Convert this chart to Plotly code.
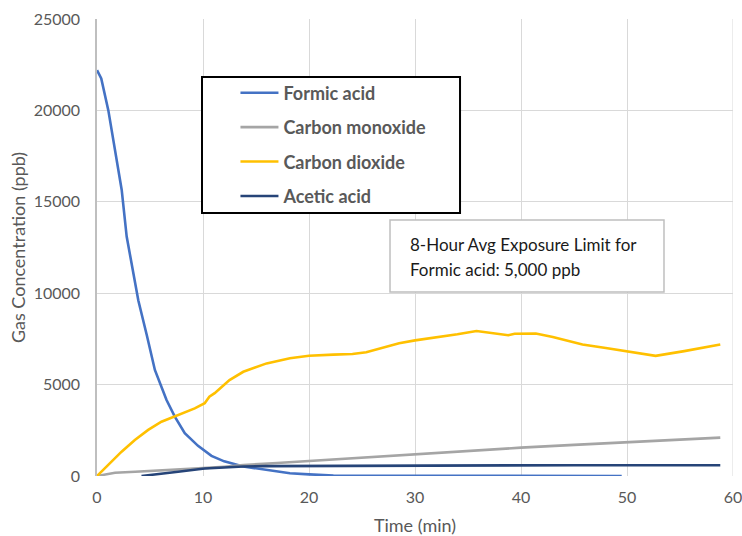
import plotly.graph_objects as go

# ---- data ----
t_formic = [0, 0.4, 1.07, 1.7, 2.33, 2.8, 3.37, 3.9, 4.7, 5.46, 6.56, 7.34, 8.28, 9.53, 10.8, 12.0,
            13.8, 16, 18.2, 20, 22.3, 25, 30, 35, 40, 45, 49.5]
v_formic = [22200, 21750, 20000, 17830, 15650, 13100, 11300, 9600, 7700, 5800, 4160, 3250, 2340, 1650,
            1100, 800, 520, 330, 150, 90, 20, 10, 0, 0, 0, 0, 0]

t_co = [0, 1.7, 3.6, 6, 8, 10, 12, 13.8, 17, 20, 23, 26.7, 28.5, 30, 35, 40, 45, 50, 55, 58.8]
v_co = [0, 180, 235, 300, 360, 430, 510, 600, 710, 820, 930, 1070, 1150, 1220, 1390, 1550, 1700,
        1840, 1980, 2100]

t_co2 = [0, 1.06, 2.32, 3.57, 4.83, 6.08, 7.65, 9.22, 10.16, 10.6, 11.1, 11.6, 12.5, 13.8, 16, 18.2,
         20, 22.3, 24.1, 25.4, 27, 28.5, 30, 32, 34, 35.8, 37, 38.8, 39.4, 41.4, 43, 45.8, 48, 50.4,
         52.7, 55.4, 57, 58.8]
v_co2 = [0, 600, 1330, 1970, 2520, 2970, 3340, 3700, 3980, 4340, 4530, 4800, 5250, 5700, 6160, 6440,
         6580, 6640, 6670, 6770, 7040, 7260, 7420, 7580, 7750, 7930, 7850, 7700, 7780, 7790, 7600,
         7190, 7000, 6770, 6570, 6830, 6980, 7190]

t_acetic = [4.2, 5.5, 7.65, 10.16, 12, 13.8, 16, 20, 23.6, 28.5, 35, 40, 45, 50, 55, 58.8]
v_acetic = [0, 100, 235, 410, 475, 520, 540, 550, 560, 590, 590, 590, 590, 590, 590, 590]

series_names = ["Formic acid", "Carbon monoxide", "Carbon dioxide", "Acetic acid"]
series_colors = ["#4472C4", "#A5A5A5", "#FFC000", "#264478"]

x_range = [0, 60]
y_range = [0, 25000]
x_title = "Time (min)"
y_title = "Gas Concentration (ppb)"
note_lines = ["8-Hour Avg Exposure Limit for", "Formic acid: 5,000 ppb"]

FONT = "Lato"
GREY_TXT = "#595959"

fig = go.Figure()
for name, color, xs, ys in zip(series_names, series_colors,
                               [t_formic, t_co, t_co2, t_acetic],
                               [v_formic, v_co, v_co2, v_acetic]):
    fig.add_trace(go.Scatter(x=xs, y=ys, mode="lines", name=name, legendgroup=name,
                             line=dict(color=color, width=2.6)))

# right-hand gridline at the end of the x range
fig.add_shape(type="line", xref="x", yref="paper", x0=x_range[1], x1=x_range[1], y0=0, y1=1,
              line=dict(color="#D9D9D9", width=1), layer="below")
# legend box (white with black border)
fig.add_shape(type="rect", xref="paper", yref="paper", x0=0.1651, x1=0.5708, y0=0.5755, y1=0.8731,
              line=dict(color="black", width=2), fillcolor="white", layer="above")
# note box
fig.add_shape(type="rect", xref="paper", yref="paper", x0=0.4607, x1=0.8915, y0=0.4026, y1=0.5602,
              line=dict(color="#BFBFBF", width=1.5), fillcolor="white", layer="above")
for txt, yy in zip(note_lines, [0.5055, 0.4508]):
    fig.add_annotation(xref="paper", yref="paper", x=0.4890, y=yy, text=txt, showarrow=False,
                       xanchor="left", yanchor="middle", align="left",
                       font=dict(family=FONT, size=17, color="#1a1a1a"))

fig.update_layout(
    width=742, height=536,
    margin=dict(l=97, r=9, t=19, b=60),
    paper_bgcolor="white", plot_bgcolor="white",
    font=dict(family=FONT, color=GREY_TXT, size=16),
    showlegend=True,
    legend=dict(x=0.2177, y=0.8785, xanchor="left", yanchor="top", bgcolor="rgba(0,0,0,0)",
                borderwidth=0, traceorder="grouped", tracegroupgap=8, itemwidth=38,
                font=dict(family=FONT, size=18, color=GREY_TXT, weight="bold")),
    xaxis=dict(range=x_range, dtick=10, tick0=0, showgrid=True, gridcolor="#D9D9D9", gridwidth=1,
               zeroline=False, showline=False, ticks="", ticklabelstandoff=10, tickformat="d",
               ticklabeloverflow="allow", automargin=False,
               tickfont=dict(family=FONT, size=16, color=GREY_TXT),
               title=dict(text=x_title, standoff=14, font=dict(family=FONT, size=18, color=GREY_TXT))),
    yaxis=dict(range=y_range, dtick=5000, tick0=0, showgrid=True, gridcolor="#D9D9D9", gridwidth=1,
               zeroline=False, showline=True, linecolor="#BFBFBF", linewidth=1.5, ticks="",
               ticklabelstandoff=12, tickformat="d", automargin=False,
               tickfont=dict(family=FONT, size=16, color=GREY_TXT),
               title=dict(text=y_title, standoff=3, font=dict(family=FONT, size=18, color=GREY_TXT))),
)

fig.write_html("out.html")
